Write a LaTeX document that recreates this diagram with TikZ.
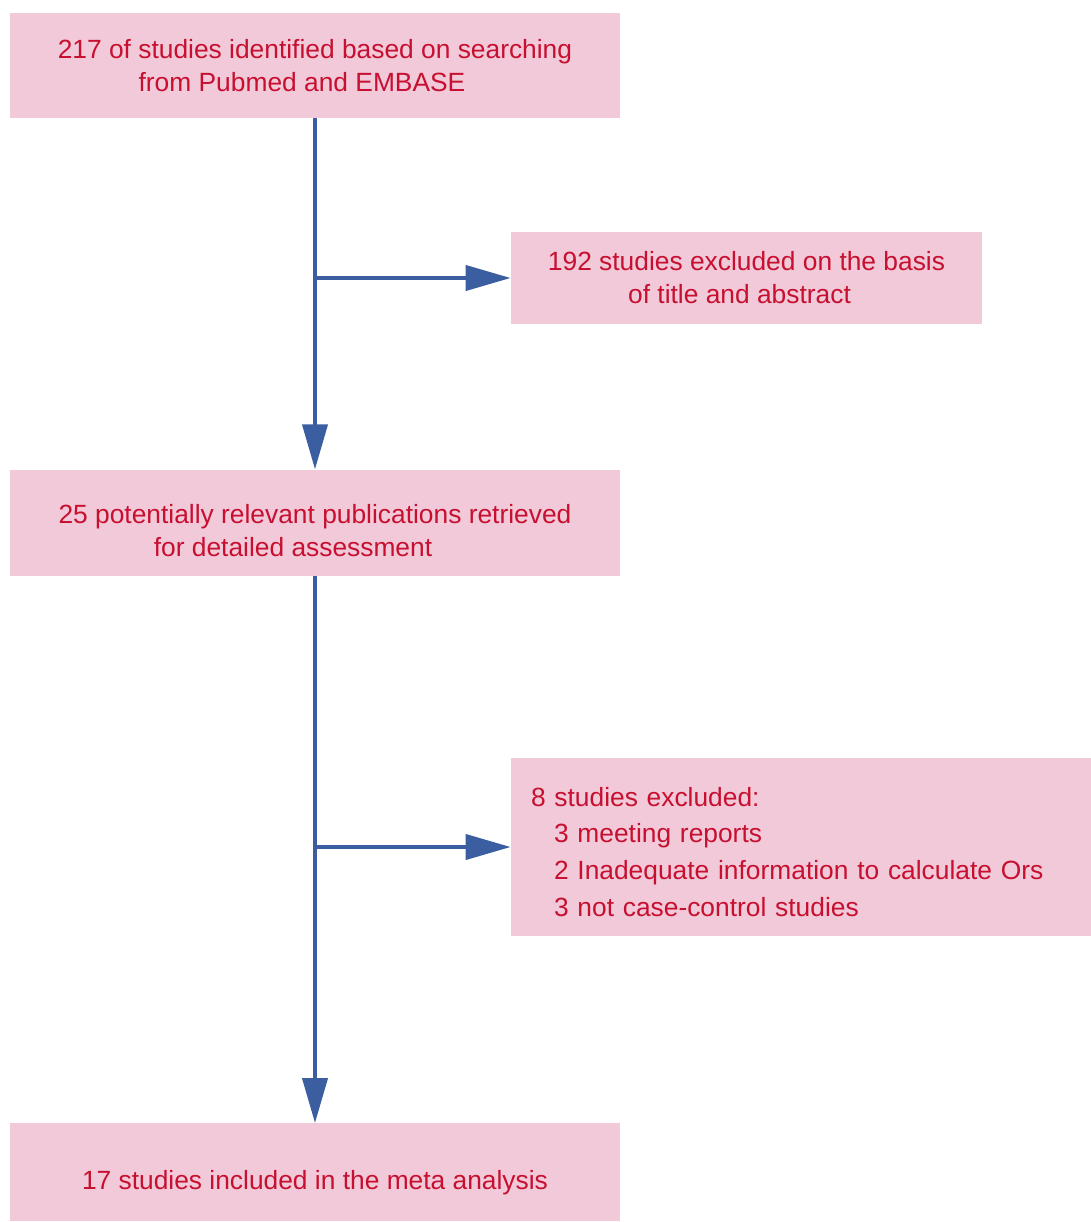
\documentclass[tikz,border=0pt]{standalone}
\usepackage{fontspec}
\setmainfont{Liberation Sans}
\usepackage{tikz}
\definecolor{d00}{rgb}{0.78, 0.06, 0.19}
\definecolor{d01}{rgb}{0.95, 0.79, 0.85}
\definecolor{d02}{rgb}{0.23, 0.37, 0.63}
\usetikzlibrary{positioning}
\usetikzlibrary{arrows.meta}
\tikzstyle{Line} = [draw, d02, line width=.08cm,
    -{Triangle[length=.9cm, width=.5cm]}]
\tikzstyle{arect} = [rectangle, fill=d01, text=d00, inner sep=0pt,
    minimum width=12.2cm, text centered, align=center,
    font=\fontsize{15pt}{18.8pt}\selectfont]
\newcommand{\pad}[1]{\hspace*{#1 cm}}
\newcommand{\sink}[2]{\raisebox{-#1 cm}[\height][\depth]{#2}}

\begin{document}
\begin{tikzpicture}[auto, node distance=.9cm]
     % ><>< =================== ><>< %
     % ><><     Place nodes     ><>< %
     % ><>< =================== ><>< %
     \useasboundingbox (0,0) rectangle (21.82,-24.44);
     % ><>< =================== ><>< %
     \node [arect, minimum height=2.1cm] (step00) at (6.3,-1.31)
        {217 of studies identified based on searching\\
         from Pubmed and EMBASE\pad{0.52}};
     \node [arect, minimum width=9.42cm, minimum height=1.84cm]
        (step01) at (14.93,-5.56)
        {192 studies excluded on the basis\\
         of title and abstract\pad{0.28}};
     \node [arect, minimum height=2.12cm, below=7.02cm of step00] (step02)
        {\sink{.16}{\parbox{12cm}{\centering
         25 potentially relevant publications retrieved\\
         for detailed assessment\pad{0.88}}}};
     \node [arect, minimum width=11.6cm, minimum height=3.56cm,
        text width=10.8cm, align=left, inner xsep=.4cm,
        font=\fontsize{15pt}{21pt}\selectfont]
        (step03) at (16.02,-16.94)
        {\sink{.1}{\parbox{10.8cm}{
         8 studies excluded:\\
         \pad{0.46}3 meeting reports\\
         \pad{0.46}2 Inadequate information to calculate Ors\\
         \pad{0.46}3 not case-control studies}}};
     \node [arect, minimum height=1.96cm, below=10.94cm of step02] (step04)
        {\sink{.2}{17 studies included in the meta analysis}};
     \coordinate (fork00) at (step00.south |- step01.west);
     \coordinate (fork01) at (step02.south |- step03.west);
     % ><>< =================== ><>< %
     % ><><     Draw lines.     ><>< %
     % ><>< =================== ><>< %
     \path [Line] (step00.south) -- (step02.north);
     \path [Line] (fork00) -- (step01.west);
     \path [Line] (step02.south) -- (step04.north);
     \path [Line] (fork01) -- (step03.west);
  \end{tikzpicture}
\end{document}
